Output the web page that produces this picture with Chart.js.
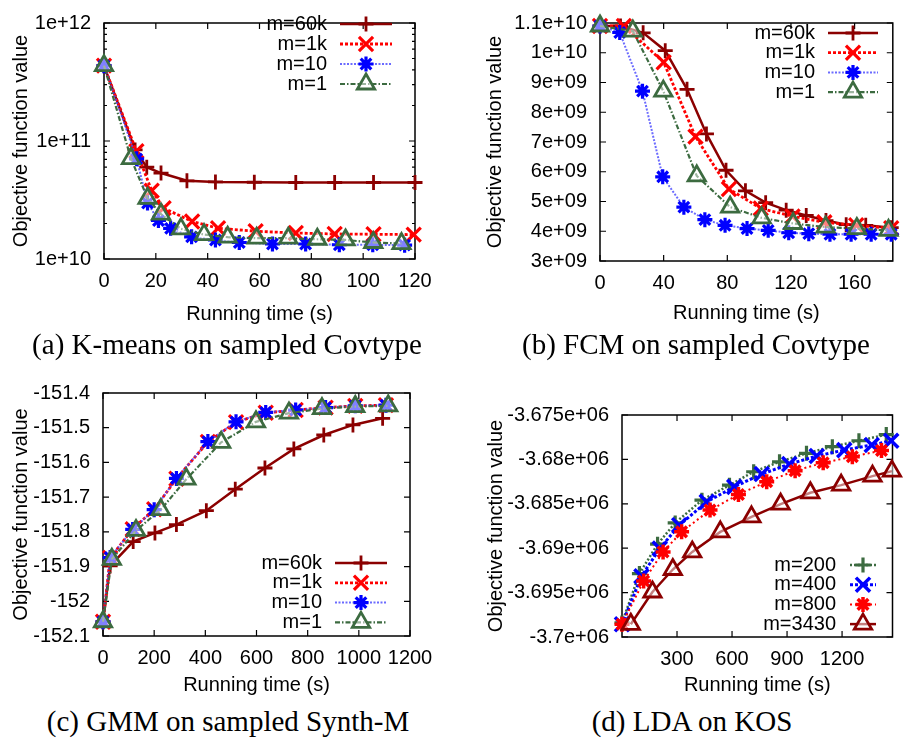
<!DOCTYPE html>
<html>
<head>
<meta charset="utf-8">
<title>Objective vs running time</title>
<script src="https://cdn.jsdelivr.net/npm/chart.js@4"></script>
<style>
    body { margin: 0; background: #fff; }
    #page { position: relative; width: 906px; height: 746px; overflow: hidden; background: #fff; }
    .panel { position: absolute; width: 453px; height: 330px; }
    .caption {
        position: absolute;
        font-family: "Liberation Serif", "DejaVu Serif", serif;
        font-size: 29px;
        line-height: 1;
        color: #000;
        white-space: nowrap;
        transform: translate(-50%, -50%);
    }
</style>
</head>
<body>
<div id="page">
    <div class="panel" style="left:0;top:0"><canvas id="chartA"></canvas></div>
    <div class="panel" style="left:453px;top:0"><canvas id="chartB"></canvas></div>
    <div class="panel" style="left:0;top:370px"><canvas id="chartC"></canvas></div>
    <div class="panel" style="left:453px;top:370px"><canvas id="chartD"></canvas></div>
    <div class="caption" style="left:227px;top:344px">(a) K-means on sampled Covtype</div>
    <div class="caption" style="left:696px;top:344px">(b) FCM on sampled Covtype</div>
    <div class="caption" style="left:228px;top:721px">(c) GMM on sampled Synth-M</div>
    <div class="caption" style="left:692px;top:721px">(d) LDA on KOS</div>
</div>
<script>
// Data

// (a) K-means on sampled Covtype
const kmLabels = ['m=60k', 'm=1k', 'm=10', 'm=1'];
const kmTime60k = [0, 12, 16.5, 22, 32, 43, 58, 74, 89, 104, 120];
const kmObj60k = [4.35e11, 8.4e10, 6.0e10, 5.35e10, 4.6e10, 4.5e10, 4.47e10, 4.45e10, 4.45e10, 4.45e10, 4.45e10];
const kmTime1k = [0, 12.5, 18.4, 23, 34, 44, 58.5, 74, 89, 104, 119.5];
const kmObj1k = [4.35e11, 8.2e10, 3.8e10, 2.7e10, 2.08e10, 1.82e10, 1.72e10, 1.66e10, 1.63e10, 1.62e10, 1.61e10];
const kmTime10 = [0, 12.6, 16.8, 21, 25.7, 33.8, 43, 52.2, 65, 77.8, 90.8, 103.7, 116];
const kmObj10 = [4.35e11, 7.06e10, 2.98e10, 2.12e10, 1.82e10, 1.54e10, 1.45e10, 1.38e10, 1.34e10, 1.34e10, 1.32e10, 1.32e10, 1.31e10];
const kmTime1 = [0, 10.4, 16.8, 22, 29.7, 38.6, 47.7, 58.9, 71.1, 82.3, 93.2, 103.9, 114.8];
const kmObj1 = [4.35e11, 7.1e10, 3.27e10, 2.4e10, 1.8e10, 1.61e10, 1.53e10, 1.5e10, 1.5e10, 1.47e10, 1.45e10, 1.38e10, 1.35e10];
const kmXTicks = [0, 20, 40, 60, 80, 100, 120];
const kmYTicks = [1e10, 1e11, 1e12];
const kmYTickLabels = ['1e+10', '1e+11', '1e+12'];

// (b) FCM on sampled Covtype
const fcmLabels = ['m=60k', 'm=1k', 'm=10', 'm=1'];
const fcmTime60k = [0, 12.9, 27.1, 41, 54.7, 66.9, 79.2, 91.4, 104.1, 117, 129.6, 142, 154.7, 167, 183];
const fcmObj60k = [1.09e10, 1.09e10, 1.067e10, 1.007e10, 8.77e9, 7.27e9, 6.05e9, 5.36e9, 4.96e9, 4.71e9, 4.53e9, 4.36e9, 4.22e9, 4.2e9, 4.12e9];
const fcmTime1k = [0, 15, 40, 60, 81, 101, 121, 141, 161, 183];
const fcmObj1k = [1.09e10, 1.09e10, 9.68e9, 7.18e9, 5.42e9, 4.77e9, 4.5e9, 4.3e9, 4.2e9, 4.1e9];
const fcmTime10 = [0, 12.4, 26.7, 39.4, 52.7, 65.9, 78.6, 92.4, 105.7, 118.6, 131.2, 144.5, 157.8, 170.4, 183];
const fcmObj10 = [1.09e10, 1.068e10, 8.71e9, 5.83e9, 4.81e9, 4.39e9, 4.2e9, 4.09e9, 4.03e9, 3.95e9, 3.92e9, 3.9e9, 3.9e9, 3.9e9, 3.9e9];
const fcmTime1 = [0, 20.6, 39.8, 60.8, 81.8, 101.6, 121.4, 141.8, 161.4, 181.3];
const fcmObj1 = [1.09e10, 1.073e10, 8.71e9, 5.86e9, 4.81e9, 4.45e9, 4.26e9, 4.14e9, 4.09e9, 4.03e9];
const fcmXTicks = [0, 40, 80, 120, 160];
const fcmYTicks = [3e9, 4e9, 5e9, 6e9, 7e9, 8e9, 9e9, 1e10, 1.1e10];
const fcmYTickLabels = ['3e+09', '4e+09', '5e+09', '6e+09', '7e+09', '8e+09', '9e+09', '1e+10', '1.1e+10'];

// (c) GMM on sampled Synth-M
const gmmLabels = ['m=60k', 'm=1k', 'm=10', 'm=1'];
const gmmTime60k = [0, 28, 118, 203, 287, 404, 517, 633, 746, 863, 977, 1093];
const gmmObj60k = [-152.059, -151.898, -151.828, -151.803, -151.779, -151.739, -151.677, -151.616, -151.561, -151.521, -151.492, -151.473];
const gmmTime1k = [0, 28, 116, 200, 287, 410, 520, 636, 753, 870, 986, 1106];
const gmmObj1k = [-152.059, -151.875, -151.792, -151.735, -151.647, -151.541, -151.484, -151.457, -151.449, -151.442, -151.437, -151.435];
const gmmTime10 = [0, 28, 116, 200, 287, 410, 520, 636, 753, 870, 986, 1106];
const gmmObj10 = [-152.059, -151.874, -151.793, -151.736, -151.646, -151.540, -151.483, -151.456, -151.449, -151.442, -151.437, -151.435];
const gmmTime1 = [0, 34.5, 129, 226, 326, 462, 598, 727, 856, 986, 1115];
const gmmObj1 = [-152.059, -151.879, -151.796, -151.736, -151.648, -151.542, -151.483, -151.458, -151.445, -151.439, -151.437];
const gmmXTicks = [0, 200, 400, 600, 800, 1000, 1200];
const gmmYTicks = [-152.1, -152, -151.9, -151.8, -151.7, -151.6, -151.5, -151.4];
const gmmYTickLabels = ['-152.1', '-152', '-151.9', '-151.8', '-151.7', '-151.6', '-151.5', '-151.4'];

// (d) LDA on KOS
const ldaLabels = ['m=200', 'm=400', 'm=800', 'm=3430'];
const ldaTime200 = [0, 95, 194, 290, 436, 586, 718, 859, 1006, 1147, 1292, 1441];
const ldaObj200 = [-3.69842e6, -3.69286e6, -3.68955e6, -3.68715e6, -3.68459e6, -3.68290e6, -3.68139e6, -3.68027e6, -3.67932e6, -3.67857e6, -3.67790e6, -3.67720e6];
const ldaTime400 = [0, 106, 206, 312, 462, 612, 762, 912, 1062, 1212, 1362, 1468];
const ldaObj400 = [-3.69857e6, -3.69316e6, -3.69004e6, -3.68741e6, -3.68478e6, -3.68309e6, -3.68165e6, -3.68053e6, -3.67962e6, -3.67895e6, -3.67838e6, -3.67790e6];
const ldaTime800 = [0, 118, 224, 325, 480, 635, 789, 944, 1097, 1256, 1415];
const ldaObj800 = [-3.69857e6, -3.69369e6, -3.69042e6, -3.68816e6, -3.68571e6, -3.68395e6, -3.68252e6, -3.68128e6, -3.68038e6, -3.67970e6, -3.67900e6];
const ldaTime3430 = [48, 166, 277, 383, 536, 706, 865, 1027, 1195, 1366, 1472];
const ldaObj3430 = [-3.69857e6, -3.69493e6, -3.69240e6, -3.69042e6, -3.68816e6, -3.68647e6, -3.68504e6, -3.68376e6, -3.68290e6, -3.68188e6, -3.68132e6];
const ldaXTicks = [300, 600, 900, 1200];
const ldaYTicks = [-3.7e6, -3.695e6, -3.69e6, -3.685e6, -3.68e6, -3.675e6];
const ldaYTickLabels = ['-3.7e+06', '-3.695e+06', '-3.69e+06', '-3.685e+06', '-3.68e+06', '-3.675e+06'];

const xTitle = 'Running time (s)';
const yTitle = 'Objective function value';

// Line / marker styles (gnuplot look)
const DARK_RED = '#8b0000';
const RED = '#ff0000';
const BLUE = '#0000ff';
const GREEN = '#3c6b40';

const styleSolidPlus = { borderColor: DARK_RED, borderWidth: 2.5, borderDash: [], pointStyle: 'cross', pointRadius: 7.5, pointBorderWidth: 2.8, pointBorderColor: DARK_RED, pointBackgroundColor: DARK_RED };
const styleRedX = { borderColor: RED, borderWidth: 2.8, borderDash: [3, 2], pointStyle: 'crossRot', pointRadius: 10, pointBorderWidth: 3.2, pointBorderColor: RED, pointBackgroundColor: RED };
const styleBlueStar = { borderColor: 'rgba(70,70,255,0.8)', borderWidth: 2, borderDash: [2, 1.5], pointStyle: 'star', pointRadius: 7.5, pointBorderWidth: 3.2, pointBorderColor: BLUE, pointBackgroundColor: BLUE };
const styleGreenTri = { borderColor: GREEN, borderWidth: 2.2, borderDash: [5, 2, 1.5, 2], pointStyle: 'triangle', pointRadius: 10, pointBorderWidth: 2.8, pointBorderColor: GREEN, pointBackgroundColor: 'rgba(255,255,255,0.5)' };

const styleGreenPlus = { borderColor: GREEN, borderWidth: 2.5, borderDash: [2, 2], pointStyle: 'cross', pointRadius: 7.5, pointBorderWidth: 3.2, pointBorderColor: GREEN, pointBackgroundColor: GREEN };
const styleBlueX = { borderColor: BLUE, borderWidth: 3, borderDash: [3, 2], pointStyle: 'crossRot', pointRadius: 10, pointBorderWidth: 3.5, pointBorderColor: BLUE, pointBackgroundColor: BLUE };
const styleRedStar = { borderColor: RED, borderWidth: 2, borderDash: [2, 3], pointStyle: 'star', pointRadius: 7.5, pointBorderWidth: 3.5, pointBorderColor: RED, pointBackgroundColor: RED };
const styleSolidTri = { borderColor: DARK_RED, borderWidth: 2.5, borderDash: [], pointStyle: 'triangle', pointRadius: 10, pointBorderWidth: 2.8, pointBorderColor: DARK_RED, pointBackgroundColor: 'rgba(255,255,255,0.5)' };

const FONT_FAMILY = '"Liberation Sans", Arial, sans-serif';
const FONT_SIZE = 20;

Chart.defaults.font.family = FONT_FAMILY;
Chart.defaults.color = '#000';

// Build a dataset from x/y arrays
function series(label, xs, ys, style, order) {
    return Object.assign({
        label: label,
        data: xs.map(function(x, i) { return { x: x, y: ys[i] }; }),
        tension: 0,
        clip: false,
        order: order
    }, style);
}

// Frame with inward ticks on all four sides, like gnuplot
const gnuFrame = {
    id: 'gnuFrame',
    beforeDatasetsDraw(chart) {
        const ctx = chart.ctx;
        const a = chart.chartArea;
        const xs = chart.scales.x;
        const ys = chart.scales.y;
        const major = 6;
        const minor = 3;
        ctx.save();
        ctx.strokeStyle = '#000';
        ctx.lineWidth = 1.2;
        ctx.beginPath();
        xs.ticks.forEach(function(t) {
            const px = xs.getPixelForValue(t.value);
            ctx.moveTo(px, a.bottom); ctx.lineTo(px, a.bottom - major);
            ctx.moveTo(px, a.top); ctx.lineTo(px, a.top + major);
        });
        ys.ticks.forEach(function(t) {
            const py = ys.getPixelForValue(t.value);
            ctx.moveTo(a.left, py); ctx.lineTo(a.left + major, py);
            ctx.moveTo(a.right, py); ctx.lineTo(a.right - major, py);
        });
        if (ys.type === 'logarithmic') {
            for (let d = Math.floor(Math.log10(ys.min)); d < Math.log10(ys.max); d++) {
                for (let k = 2; k <= 9; k++) {
                    const v = k * Math.pow(10, d);
                    if (v <= ys.min || v >= ys.max) continue;
                    const py = ys.getPixelForValue(v);
                    ctx.moveTo(a.left, py); ctx.lineTo(a.left + minor, py);
                    ctx.moveTo(a.right, py); ctx.lineTo(a.right - minor, py);
                }
            }
        }
        ctx.stroke();
        ctx.lineWidth = 1.5;
        ctx.strokeRect(a.left, a.top, a.right - a.left, a.bottom - a.top);
        ctx.restore();
    }
};

// Gnuplot style key: text on the left, line sample with marker on the right
const gnuKey = {
    id: 'gnuKey',
    afterDatasetsDraw(chart, args, opts) {
        const ctx = chart.ctx;
        chart.data.datasets.forEach(function(ds, i) {
            const y = opts.top + i * opts.rowGap;
            ctx.save();
            ctx.font = FONT_SIZE + 'px ' + FONT_FAMILY;
            ctx.textAlign = 'right';
            ctx.textBaseline = 'middle';
            ctx.fillStyle = '#000';
            ctx.fillText(ds.label, opts.textRight, y);

            ctx.strokeStyle = ds.borderColor;
            ctx.lineWidth = ds.borderWidth;
            ctx.setLineDash(ds.borderDash || []);
            ctx.beginPath();
            ctx.moveTo(opts.lineLeft, y);
            ctx.lineTo(opts.lineRight, y);
            ctx.stroke();
            ctx.setLineDash([]);

            ctx.strokeStyle = ds.pointBorderColor;
            ctx.fillStyle = ds.pointBackgroundColor;
            ctx.lineWidth = ds.pointBorderWidth;
            Chart.helpers.drawPoint(ctx, {
                pointStyle: ds.pointStyle,
                radius: ds.pointRadius,
                rotation: 0,
                borderWidth: ds.pointBorderWidth
            }, (opts.lineLeft + opts.lineRight) / 2, y);
            ctx.restore();
        });
    }
};

// Create one panel
function initPanel(canvasId, datasets, p) {
    const ctx = document.getElementById(canvasId).getContext('2d');
    const font = { family: FONT_FAMILY, size: FONT_SIZE };

    return new Chart(ctx, {
        type: 'line',
        data: { datasets: datasets },
        plugins: [gnuFrame, gnuKey],
        options: {
            responsive: true,
            maintainAspectRatio: false,
            animation: false,
            events: [],
            layout: { padding: { left: 0, top: p.padTop, right: p.padRight, bottom: 0 } },
            scales: {
                x: {
                    type: 'linear',
                    min: p.xMin,
                    max: p.xMax,
                    afterBuildTicks: function(s) { s.ticks = p.xTicks.map(function(v) { return { value: v }; }); },
                    afterFit: function(s) { s.height = p.xHeight; },
                    grid: { display: false, drawTicks: false },
                    border: { display: false },
                    ticks: {
                        font: font,
                        padding: 10,
                        maxRotation: 0,
                        autoSkip: false,
                        callback: function(v) { return String(v); }
                    },
                    title: { display: true, text: xTitle, font: font, padding: { top: 0, bottom: p.xTitlePad } }
                },
                y: {
                    type: p.yType,
                    min: p.yMin,
                    max: p.yMax,
                    afterBuildTicks: function(s) { s.ticks = p.yTicks.map(function(v) { return { value: v }; }); },
                    afterFit: function(s) { s.width = p.yWidth; },
                    grid: { display: false, drawTicks: false },
                    border: { display: false },
                    ticks: {
                        font: { family: FONT_FAMILY, size: FONT_SIZE, lineHeight: 1 },
                        padding: 13,
                        autoSkip: false,
                        callback: function(v, i) { return p.yTickLabels[i]; }
                    },
                    title: { display: true, text: yTitle, font: font, padding: { top: p.yTitlePad, bottom: 0 } }
                }
            },
            plugins: {
                legend: { display: false },
                tooltip: { enabled: false },
                gnuKey: p.key
            }
        }
    });
}

document.addEventListener('DOMContentLoaded', function() {
    initPanel('chartA', [
        series(kmLabels[0], kmTime60k, kmObj60k, styleSolidPlus, 3),
        series(kmLabels[1], kmTime1k, kmObj1k, styleRedX, 2),
        series(kmLabels[2], kmTime10, kmObj10, styleBlueStar, 1),
        series(kmLabels[3], kmTime1, kmObj1, styleGreenTri, 0)
    ], {
        padTop: 10, padRight: 38, xHeight: 71, yWidth: 104, xTitlePad: 4, yTitlePad: 9,
        xMin: 0, xMax: 120, xTicks: kmXTicks,
        yType: 'logarithmic', yMin: 1e10, yMax: 1e12, yTicks: kmYTicks, yTickLabels: kmYTickLabels,
        key: { textRight: 327, lineLeft: 340, lineRight: 392, top: 24, rowGap: 20 }
    });

    initPanel('chartB', [
        series(fcmLabels[0], fcmTime60k, fcmObj60k, styleSolidPlus, 3),
        series(fcmLabels[1], fcmTime1k, fcmObj1k, styleRedX, 2),
        series(fcmLabels[2], fcmTime10, fcmObj10, styleBlueStar, 1),
        series(fcmLabels[3], fcmTime1, fcmObj1, styleGreenTri, 0)
    ], {
        padTop: 20, padRight: 5, xHeight: 69, yWidth: 147, xTitlePad: 5, yTitlePad: 30,
        xMin: 0, xMax: 184, xTicks: fcmXTicks,
        yType: 'linear', yMin: 3e9, yMax: 1.1e10, yTicks: fcmYTicks, yTickLabels: fcmYTickLabels,
        key: { textRight: 362, lineLeft: 375, lineRight: 425, top: 33, rowGap: 19.7 }
    });

    initPanel('chartC', [
        series(gmmLabels[0], gmmTime60k, gmmObj60k, styleSolidPlus, 3),
        series(gmmLabels[1], gmmTime1k, gmmObj1k, styleRedX, 2),
        series(gmmLabels[2], gmmTime10, gmmObj10, styleBlueStar, 1),
        series(gmmLabels[3], gmmTime1, gmmObj1, styleGreenTri, 0)
    ], {
        padTop: 20, padRight: 43, xHeight: 64, yWidth: 103, xTitlePad: 3, yTitlePad: 9,
        xMin: 0, xMax: 1200, xTicks: gmmXTicks,
        yType: 'linear', yMin: -152.1, yMax: -151.4, yTicks: gmmYTicks, yTickLabels: gmmYTickLabels,
        key: { textRight: 322, lineLeft: 335, lineRight: 387, top: 193, rowGap: 19.8 }
    });

    initPanel('chartD', [
        series(ldaLabels[0], ldaTime200, ldaObj200, styleGreenPlus, 3),
        series(ldaLabels[1], ldaTime400, ldaObj400, styleBlueX, 2),
        series(ldaLabels[2], ldaTime800, ldaObj800, styleRedStar, 1),
        series(ldaLabels[3], ldaTime3430, ldaObj3430, styleSolidTri, 0)
    ], {
        padTop: 45, padRight: 6, xHeight: 63, yWidth: 169, xTitlePad: 3, yTitlePad: 31,
        xMin: 0, xMax: 1475, xTicks: ldaXTicks,
        yType: 'linear', yMin: -3.7e6, yMax: -3.675e6, yTicks: ldaYTicks, yTickLabels: ldaYTickLabels,
        key: { textRight: 383, lineLeft: 397, lineRight: 423, top: 195, rowGap: 19.7 }
    });
});
</script>
</body>
</html>
